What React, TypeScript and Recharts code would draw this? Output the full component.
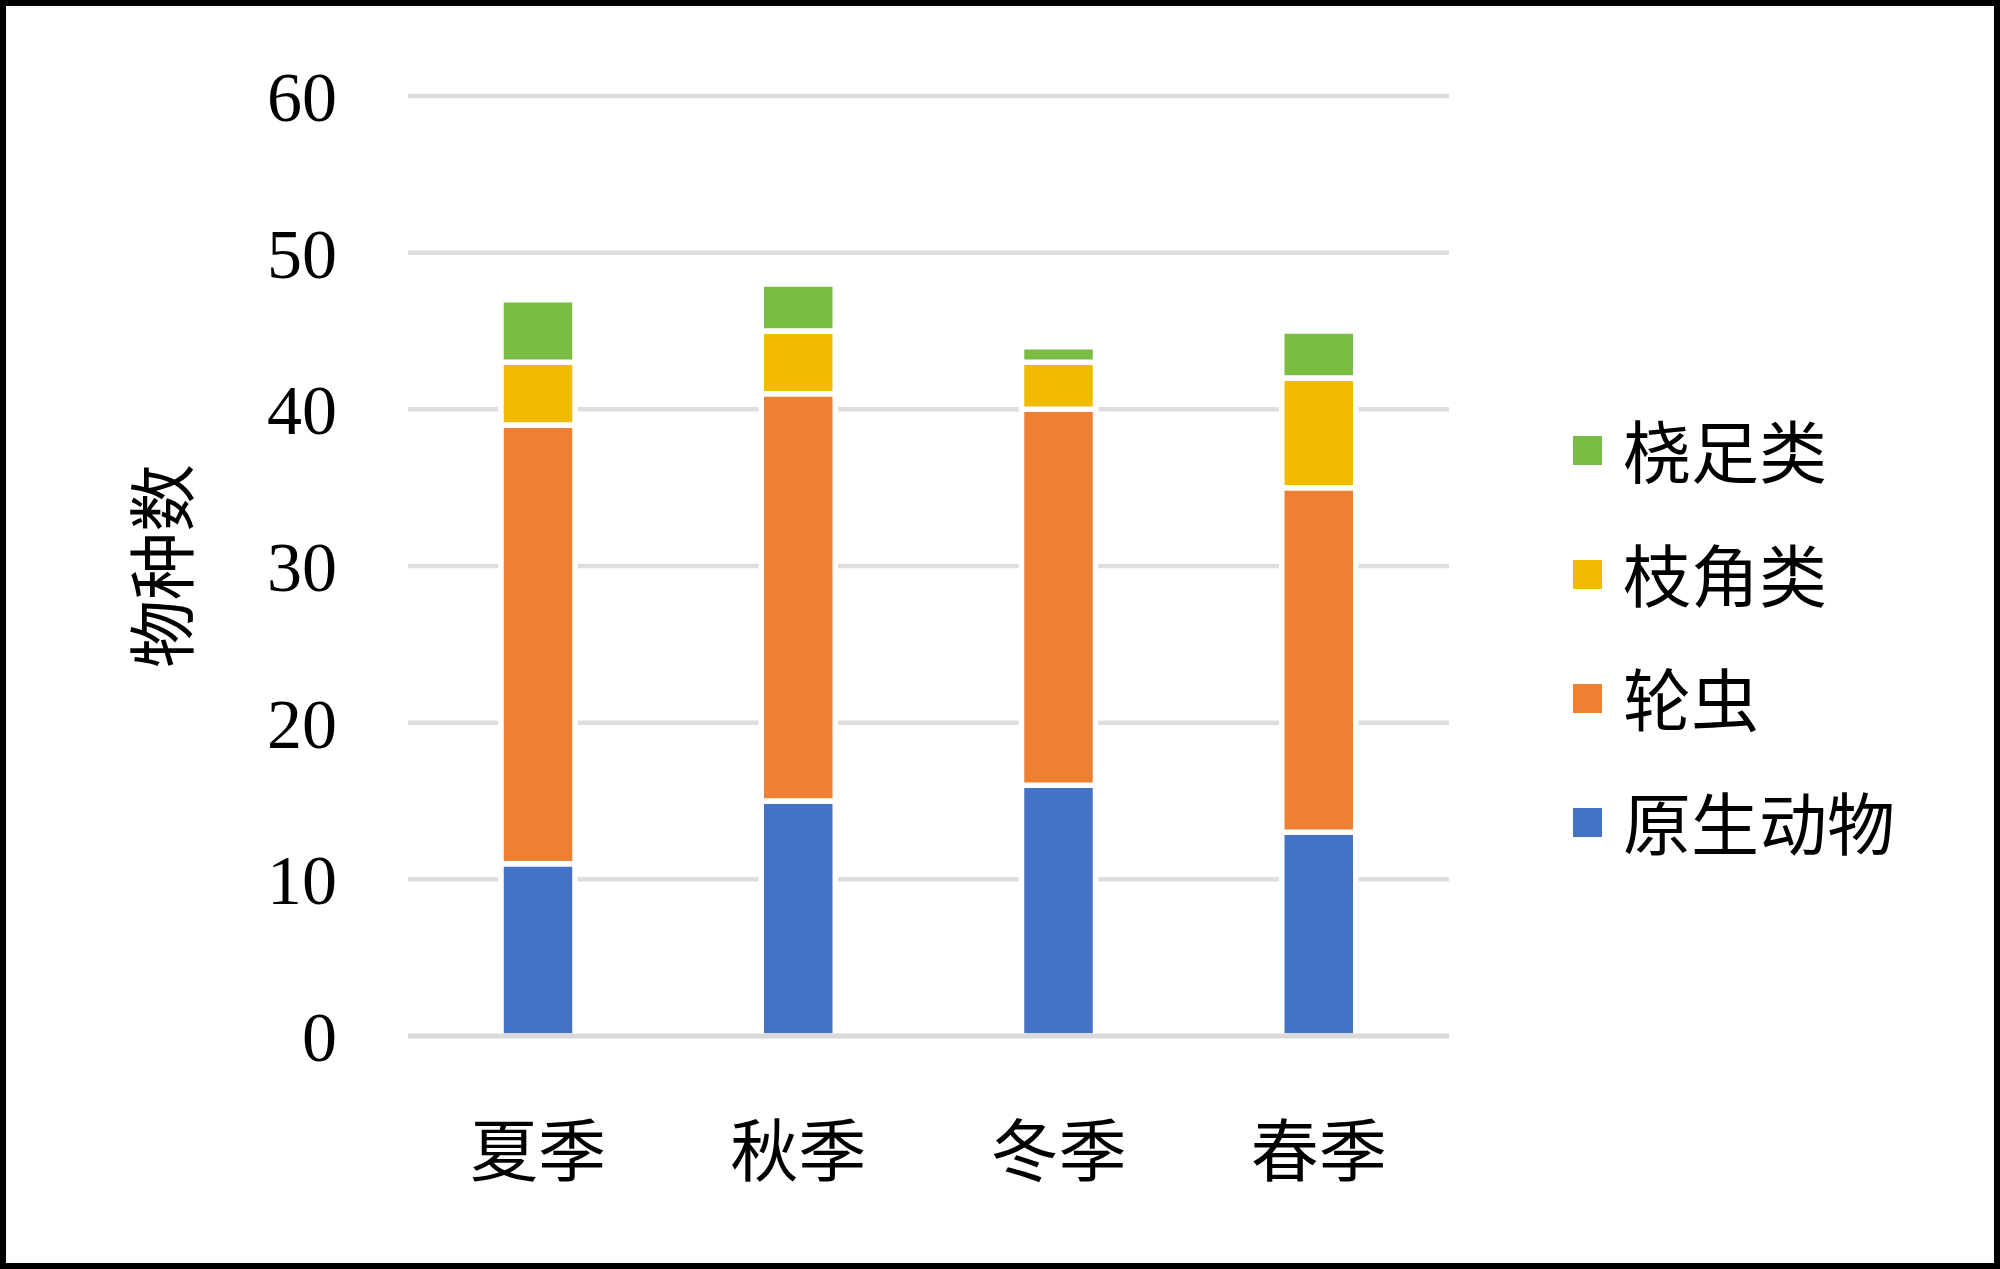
import { BarChart, Bar, XAxis, YAxis, CartesianGrid, Legend, Label } from 'recharts';

const seasons = ['夏季', '秋季', '冬季', '春季'];
const protozoa = [11, 15, 16, 13]; // 原生动物
const rotifers = [28, 26, 24, 22]; // 轮虫
const cladocera = [4, 4, 3, 7]; // 枝角类
const copepods = [4, 3, 1, 3]; // 桡足类
const yTicks = [0, 10, 20, 30, 40, 50, 60];

const seriesNames = ['原生动物', '轮虫', '枝角类', '桡足类'];
const seriesKeys = ['protozoa', 'rotifers', 'cladocera', 'copepods'];
const seriesColors = ['#4472C4', '#EE8033', '#F1BB00', '#7ABD44'];

const FONT = '"Liberation Serif", "Times New Roman", "Noto Sans CJK SC", serif';

const data = seasons.map((season, i) => ({
    season,
    protozoa: protozoa[i],
    rotifers: rotifers[i],
    cladocera: cladocera[i],
    copepods: copepods[i],
}));

// legend reads top-down in reverse stacking order, like Excel does it
function SpeciesLegend() {
    const rows = seriesNames.map((name, i) => ({ name, color: seriesColors[i] })).reverse();
    return (
        <div style={{ fontFamily: FONT }}>
            {rows.map((r) => (
                <div key={r.name} style={{ height: 124, display: 'flex', alignItems: 'center' }}>
                    <span style={{ width: 29, height: 29, background: r.color, display: 'inline-block', marginRight: 21, position: 'relative', top: -5 }} />
                    <span style={{ fontSize: 68, lineHeight: '68px', color: '#000' }}>{r.name}</span>
                </div>
            ))}
        </div>
    );
}

export default function App() {
    return (
        <div style={{ position: 'absolute', left: 0, top: 0, width: 2000, height: 1269, background: '#fff' }}>
            <BarChart
                width={2000}
                height={1269}
                data={data}
                margin={{ top: 96, right: 551, bottom: 0, left: 0 }}
                barSize={74}
            >
                <CartesianGrid vertical={false} stroke="#dedede" strokeWidth={4.5} />
                <XAxis
                    dataKey="season"
                    height={233}
                    axisLine={{ stroke: '#d9d9d9', strokeWidth: 5 }}
                    tickLine={false}
                    tickSize={0}
                    tickMargin={92}
                    tick={{ fill: '#000', fontSize: 68, fontFamily: FONT }}
                />
                <YAxis
                    width={408}
                    domain={[0, 60]}
                    ticks={yTicks}
                    axisLine={false}
                    tickLine={false}
                    tickSize={0}
                    tickMargin={71}
                    tick={{ fill: '#000', fontSize: 70, fontFamily: FONT }}
                >
                    <Label
                        content={() => (
                            <text
                                x={165}
                                y={566}
                                transform="rotate(-90 165 566)"
                                textAnchor="middle"
                                dominantBaseline="central"
                                fontSize={68}
                                fontFamily={FONT}
                                fill="#000"
                            >
                                物种数
                            </text>
                        )}
                    />
                </YAxis>
                <Legend
                    layout="vertical"
                    align="center"
                    verticalAlign="middle"
                    content={() => <SpeciesLegend />}
                    wrapperStyle={{ left: 1573, top: 393, width: 400 }}
                />
                {seriesKeys.map((key, i) => (
                    <Bar
                        key={key}
                        dataKey={key}
                        name={seriesNames[i]}
                        stackId="a"
                        fill={seriesColors[i]}
                        stroke="#fff"
                        strokeWidth={5.5}
                        isAnimationActive={false}
                    />
                ))}
            </BarChart>
            <div
                style={{
                    position: 'absolute',
                    left: 0,
                    top: 0,
                    width: 2000,
                    height: 1269,
                    boxSizing: 'border-box',
                    border: '6px solid #000',
                    pointerEvents: 'none',
                }}
            />
        </div>
    );
}
